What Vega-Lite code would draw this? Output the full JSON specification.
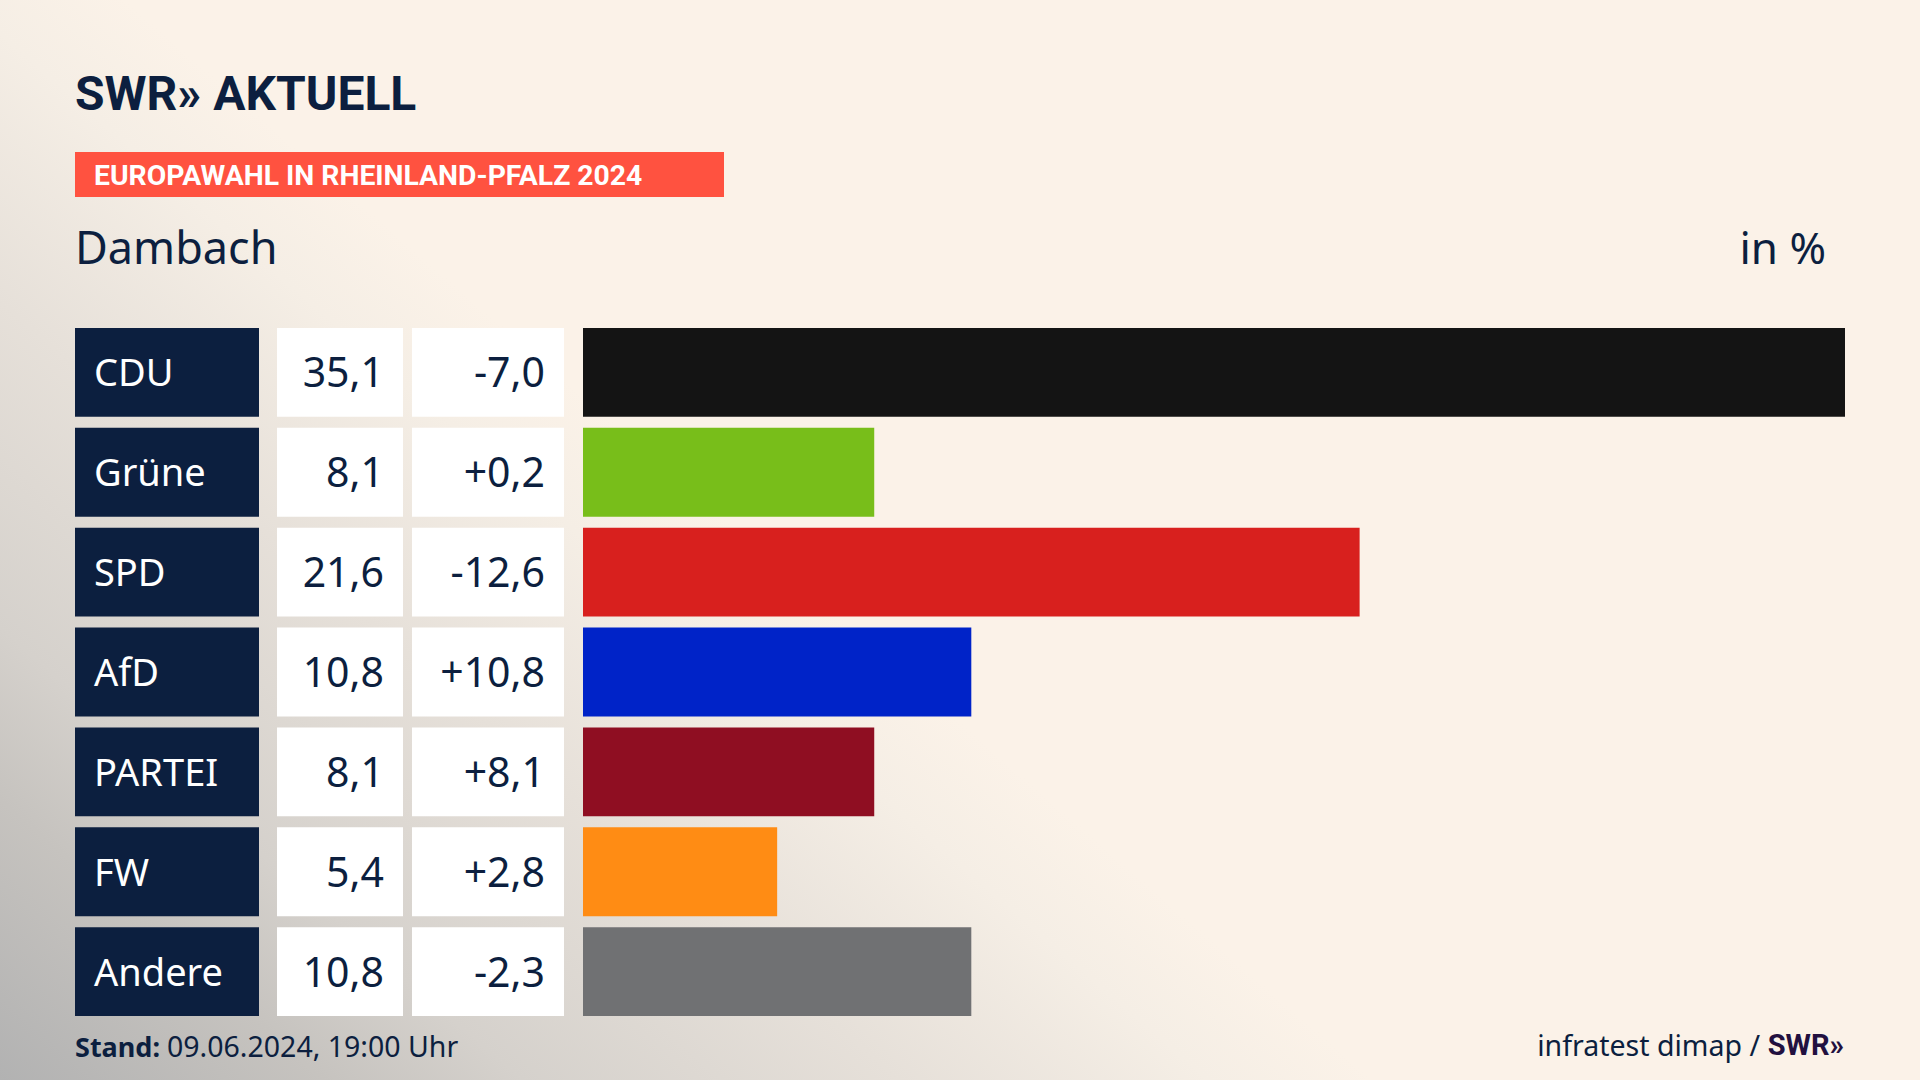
{
  "$schema": "https://vega.github.io/schema/vega-lite/v6.json",
  "width": 1920,
  "height": 1080,
  "autosize": {"type": "fit", "contains": "padding"},
  "padding": 0,
  "background": "#fbf2e8",
  "config": {"view": {"stroke": null}, "font": "Noto Sans"},
  "resolve": {"scale": {"x": "independent", "y": "independent"}},
  "datasets": {
    "rows": [
      {"party": "CDU", "share": 35.1, "share_text": "35,1", "change_text": "-7,0"},
      {"party": "Grüne", "share": 8.1, "share_text": "8,1", "change_text": "+0,2"},
      {"party": "SPD", "share": 21.6, "share_text": "21,6", "change_text": "-12,6"},
      {"party": "AfD", "share": 10.8, "share_text": "10,8", "change_text": "+10,8"},
      {"party": "PARTEI", "share": 8.1, "share_text": "8,1", "change_text": "+8,1"},
      {"party": "FW", "share": 5.4, "share_text": "5,4", "change_text": "+2,8"},
      {"party": "Andere", "share": 10.8, "share_text": "10,8", "change_text": "-2,3"}
    ]
  },
  "layer": [
    {
      "data": {"values": [{"t": "bg"}]},
      "mark": {"type": "rect", "color": {"gradient": "linear", "x1": 0, "y1": 1, "x2": 0.503, "y2": 0.673, "stops": [{"offset": 0, "color": "#b2b2b2"}, {"offset": 0.236, "color": "#c6c3bf"}, {"offset": 0.38, "color": "#d5d1cc"}, {"offset": 0.655, "color": "#e6e0d9"}, {"offset": 0.88, "color": "#f5eee5"}, {"offset": 1, "color": "#fbf2e8"}]}}
    },
    {
      "data": {"values": [{"t": "SWR» AKTUELL"}]},
      "mark": {"type": "text", "font": "Roboto", "fontWeight": "bold", "fontSize": 48, "align": "left", "baseline": "alphabetic", "color": "#0c1f3f"},
      "encoding": {
        "x": {"datum": 0, "type": "quantitative", "scale": {"domain": [0, 1], "range": [75, 413]}, "axis": null},
        "y": {"datum": 1, "type": "quantitative", "scale": {"domain": [0, 1], "range": [0, 110]}, "axis": null},
        "text": {"field": "t"}
      }
    },
    {
      "data": {"values": [{"t": "EUROPAWAHL IN RHEINLAND-PFALZ 2024"}]},
      "mark": {"type": "rect", "color": "#ff5240"},
      "encoding": {
        "x": {"datum": 0, "type": "quantitative", "scale": {"domain": [0, 1], "range": [75, 724]}, "axis": null},
        "x2": {"datum": 1},
        "y": {"datum": 0, "type": "quantitative", "scale": {"domain": [0, 1], "range": [152, 197]}, "axis": null},
        "y2": {"datum": 1}
      }
    },
    {
      "data": {"values": [{"t": "EUROPAWAHL IN RHEINLAND-PFALZ 2024"}]},
      "mark": {"type": "text", "font": "Roboto", "fontWeight": "bold", "fontSize": 28.3, "align": "left", "baseline": "alphabetic", "color": "#ffffff"},
      "encoding": {
        "x": {"datum": 0, "type": "quantitative", "scale": {"domain": [0, 1], "range": [94, 724]}, "axis": null},
        "y": {"datum": 1, "type": "quantitative", "scale": {"domain": [0, 1], "range": [0, 185]}, "axis": null},
        "text": {"field": "t"}
      }
    },
    {
      "data": {"values": [{"t": "Dambach"}]},
      "mark": {"type": "text", "fontSize": 45, "align": "left", "baseline": "alphabetic", "color": "#0c1f3f"},
      "encoding": {
        "x": {"datum": 0, "type": "quantitative", "scale": {"domain": [0, 1], "range": [75, 1826]}, "axis": null},
        "y": {"datum": 1, "type": "quantitative", "scale": {"domain": [0, 1], "range": [0, 264]}, "axis": null},
        "text": {"field": "t"}
      }
    },
    {
      "data": {"values": [{"t": "in %"}]},
      "mark": {"type": "text", "fontSize": 44, "align": "right", "baseline": "alphabetic", "color": "#0c1f3f"},
      "encoding": {
        "x": {"datum": 1, "type": "quantitative", "scale": {"domain": [0, 1], "range": [75, 1826]}, "axis": null},
        "y": {"datum": 1, "type": "quantitative", "scale": {"domain": [0, 1], "range": [0, 264]}, "axis": null},
        "text": {"field": "t"}
      }
    },
    {
      "data": {"name": "rows"},
      "mark": {"type": "bar", "color": "#0c1f3f"},
      "encoding": {
        "x": {"datum": 0, "type": "quantitative", "scale": {"domain": [0, 1], "range": [75, 259]}, "axis": null},
        "x2": {"datum": 1},
        "y": {"field": "party", "type": "nominal", "sort": null, "scale": {"type": "band", "range": [328, 1016], "paddingInner": 0.11, "paddingOuter": 0}, "axis": null}
      }
    },
    {
      "data": {"name": "rows"},
      "mark": {"type": "text", "fontSize": 38, "align": "left", "baseline": "middle", "dy": 3, "color": "#ffffff"},
      "encoding": {
        "x": {"datum": 0, "type": "quantitative", "scale": {"domain": [0, 1], "range": [94, 259]}, "axis": null},
        "y": {"field": "party", "type": "nominal", "sort": null, "scale": {"type": "band", "range": [328, 1016], "paddingInner": 0.11, "paddingOuter": 0}, "axis": null},
        "text": {"field": "party"}
      }
    },
    {
      "data": {"name": "rows"},
      "mark": {"type": "bar", "color": "#ffffff"},
      "encoding": {
        "x": {"datum": 0, "type": "quantitative", "scale": {"domain": [0, 1], "range": [277, 403]}, "axis": null},
        "x2": {"datum": 1},
        "y": {"field": "party", "type": "nominal", "sort": null, "scale": {"type": "band", "range": [328, 1016], "paddingInner": 0.11, "paddingOuter": 0}, "axis": null}
      }
    },
    {
      "data": {"name": "rows"},
      "mark": {"type": "text", "fontSize": 41, "align": "right", "baseline": "middle", "dy": 3, "color": "#0c1f3f"},
      "encoding": {
        "x": {"datum": 1, "type": "quantitative", "scale": {"domain": [0, 1], "range": [277, 384]}, "axis": null},
        "y": {"field": "party", "type": "nominal", "sort": null, "scale": {"type": "band", "range": [328, 1016], "paddingInner": 0.11, "paddingOuter": 0}, "axis": null},
        "text": {"field": "share_text"}
      }
    },
    {
      "data": {"name": "rows"},
      "mark": {"type": "bar", "color": "#ffffff"},
      "encoding": {
        "x": {"datum": 0, "type": "quantitative", "scale": {"domain": [0, 1], "range": [412, 564]}, "axis": null},
        "x2": {"datum": 1},
        "y": {"field": "party", "type": "nominal", "sort": null, "scale": {"type": "band", "range": [328, 1016], "paddingInner": 0.11, "paddingOuter": 0}, "axis": null}
      }
    },
    {
      "data": {"name": "rows"},
      "mark": {"type": "text", "fontSize": 41, "align": "right", "baseline": "middle", "dy": 3, "color": "#0c1f3f"},
      "encoding": {
        "x": {"datum": 1, "type": "quantitative", "scale": {"domain": [0, 1], "range": [412, 545]}, "axis": null},
        "y": {"field": "party", "type": "nominal", "sort": null, "scale": {"type": "band", "range": [328, 1016], "paddingInner": 0.11, "paddingOuter": 0}, "axis": null},
        "text": {"field": "change_text"}
      }
    },
    {
      "data": {"name": "rows"},
      "mark": {"type": "bar"},
      "encoding": {
        "x": {"field": "share", "type": "quantitative", "scale": {"domain": [0, 35.1], "range": [583, 1845], "nice": false}, "axis": null},
        "y": {"field": "party", "type": "nominal", "sort": null, "scale": {"type": "band", "range": [328, 1016], "paddingInner": 0.11, "paddingOuter": 0}, "axis": null},
        "color": {
          "field": "party",
          "type": "nominal",
          "scale": {
            "domain": ["CDU", "Grüne", "SPD", "AfD", "PARTEI", "FW", "Andere"],
            "range": ["#141414", "#78be1a", "#d8201e", "#0023c8", "#8f0e22", "#ff8c14", "#707173"]
          },
          "legend": null
        }
      }
    },
    {
      "data": {"values": [{"t": "Stand:"}]},
      "mark": {"type": "text", "fontSize": 27, "fontWeight": "bold", "align": "left", "baseline": "alphabetic", "color": "#0c1f3f"},
      "encoding": {
        "x": {"datum": 0, "type": "quantitative", "scale": {"domain": [0, 1], "range": [75, 1845]}, "axis": null},
        "y": {"datum": 1, "type": "quantitative", "scale": {"domain": [0, 1], "range": [0, 1057]}, "axis": null},
        "text": {"field": "t"}
      }
    },
    {
      "data": {"values": [{"t": "09.06.2024, 19:00 Uhr"}]},
      "mark": {"type": "text", "fontSize": 28.5, "align": "left", "baseline": "alphabetic", "color": "#0c1f3f"},
      "encoding": {
        "x": {"datum": 0, "type": "quantitative", "scale": {"domain": [0, 1], "range": [167, 1845]}, "axis": null},
        "y": {"datum": 1, "type": "quantitative", "scale": {"domain": [0, 1], "range": [0, 1057]}, "axis": null},
        "text": {"field": "t"}
      }
    },
    {
      "data": {"values": [{"t": "infratest dimap /"}]},
      "mark": {"type": "text", "fontSize": 28.5, "align": "right", "baseline": "alphabetic", "color": "#0c1f3f"},
      "encoding": {
        "x": {"datum": 1, "type": "quantitative", "scale": {"domain": [0, 1], "range": [75, 1760]}, "axis": null},
        "y": {"datum": 1, "type": "quantitative", "scale": {"domain": [0, 1], "range": [0, 1056]}, "axis": null},
        "text": {"field": "t"}
      }
    },
    {
      "data": {"values": [{"t": "SWR»"}]},
      "mark": {"type": "text", "font": "Roboto", "fontSize": 29, "fontWeight": "bold", "align": "right", "baseline": "alphabetic", "color": "#22103f"},
      "encoding": {
        "x": {"datum": 1, "type": "quantitative", "scale": {"domain": [0, 1], "range": [75, 1844]}, "axis": null},
        "y": {"datum": 1, "type": "quantitative", "scale": {"domain": [0, 1], "range": [0, 1055]}, "axis": null},
        "text": {"field": "t"}
      }
    }
  ]
}
